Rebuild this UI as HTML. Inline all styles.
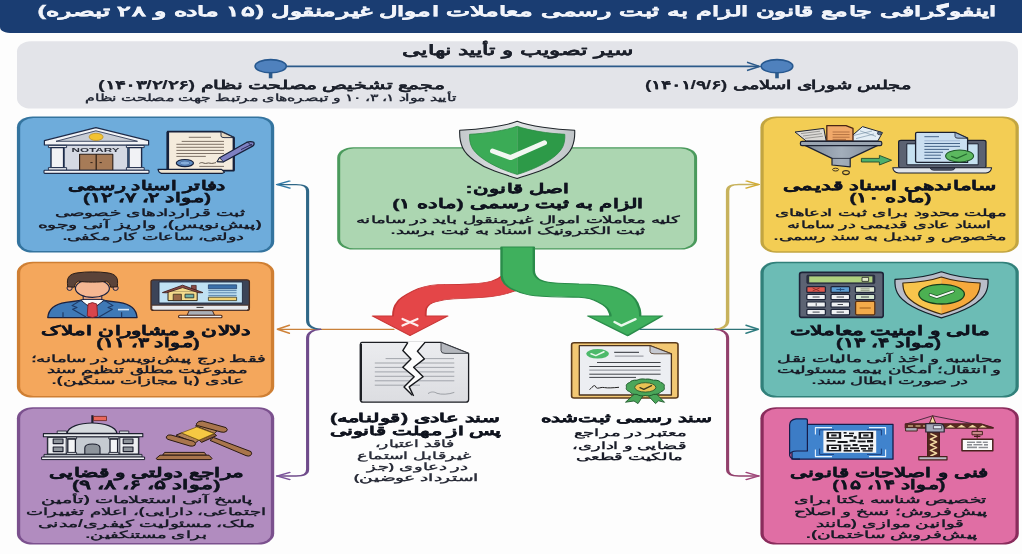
<!DOCTYPE html>
<html lang="fa"><head><meta charset="utf-8"><title>اینفوگرافی قانون الزام به ثبت رسمی معاملات اموال غیرمنقول</title>
<style>
html,body{margin:0;padding:0;background:#fdfdfd;}
body{width:1022px;height:554px;overflow:hidden;font-family:"Liberation Sans",sans-serif;}
svg{display:block;font-family:"Liberation Sans",sans-serif;}
</style></head><body>
<svg width="1022" height="554" viewBox="0 0 1022 554">
<defs>
<linearGradient id="rimg" x1="0" y1="0" x2="1" y2="0"><stop offset="0" stop-color="#c4c9cc"/><stop offset="0.5" stop-color="#e2e5e6"/><stop offset="1" stop-color="#bfc4c7"/></linearGradient>
<linearGradient id="funnelg" x1="0" y1="0" x2="1" y2="0"><stop offset="0" stop-color="#7f8b99"/><stop offset="0.5" stop-color="#a3aebb"/><stop offset="1" stop-color="#7f8b99"/></linearGradient>
<linearGradient id="paperg" x1="0" y1="0" x2="0" y2="1"><stop offset="0" stop-color="#ebecef"/><stop offset="1" stop-color="#dcdde1"/></linearGradient>
<filter id="soft" filterUnits="userSpaceOnUse" x="-20" y="-20" width="1062" height="594" color-interpolation-filters="sRGB"><feGaussianBlur stdDeviation="0.45"/></filter>
</defs>

<g filter="url(#soft)">
<rect x="-20" y="-20" width="1062" height="594" fill="#fdfdfd"/>
<!-- header -->
<path d="M-20 -20H1042V33.1H13C5 33.1 0 31 0 27V40H-20Z" fill="#1a3d72"/>
<!-- timeline panel -->
<rect x="17" y="41.2" width="1001" height="67.4" rx="14" ry="10" fill="#e3e4e9"/>
<g stroke="#2c5a8a" fill="none">
<line x1="287" y1="66.4" x2="759" y2="66.4" stroke-width="1.6"/>
<path d="M747 62.3L759.5 66.4L747 70.5" stroke-width="1.5"/>
<line x1="270.6" y1="72" x2="270.6" y2="78.3" stroke-width="3.6"/>
<line x1="777" y1="72" x2="777" y2="78.3" stroke-width="3.6"/>
</g>
<ellipse cx="270.7" cy="66.2" rx="15.6" ry="6.6" fill="#4f81bd" stroke="#27588f" stroke-width="1.6"/>
<ellipse cx="777" cy="66.2" rx="15.8" ry="6.6" fill="#4f81bd" stroke="#27588f" stroke-width="1.6"/>

<!-- side panels -->
<rect x="16.9" y="116.4" width="257.3" height="136.2" rx="16" ry="11" fill="#34749f"/><rect x="20.2" y="117.9" width="250.7" height="133.2" rx="13.299999999999999" ry="9.5" fill="#6eacdb"/>
<rect x="16.9" y="261.8" width="257.3" height="135.8" rx="16" ry="11" fill="#cf7f33"/><rect x="20.2" y="263.3" width="250.7" height="132.8" rx="13.299999999999999" ry="9.5" fill="#f4a75c"/>
<rect x="16.9" y="407.2" width="257.3" height="137.4" rx="16" ry="11" fill="#7b518e"/><rect x="20.2" y="408.7" width="250.7" height="134.4" rx="13.299999999999999" ry="9.5" fill="#b18cbf"/>
<rect x="760.4" y="116.4" width="258.4" height="136.4" rx="16" ry="11" fill="#c2a541"/><rect x="763.6999999999999" y="117.9" width="251.8" height="133.4" rx="13.299999999999999" ry="9.5" fill="#f3cd54"/>
<rect x="760.4" y="261.8" width="258.4" height="135.8" rx="16" ry="11" fill="#31807a"/><rect x="763.6999999999999" y="263.3" width="251.8" height="132.8" rx="13.299999999999999" ry="9.5" fill="#6cbcb5"/>
<rect x="760.4" y="407.2" width="258.4" height="137.4" rx="16" ry="11" fill="#8a2c5c"/><rect x="763.6999999999999" y="408.7" width="251.8" height="134.4" rx="13.299999999999999" ry="9.5" fill="#e06ea4"/>
<!-- centre -->
<!-- green panel -->
<rect x="337.2" y="147.2" width="359.9" height="102.3" rx="16" ry="10.5" fill="#4a9a5c"/>
<rect x="340.2" y="148.5" width="353.9" height="99.7" rx="13.4" ry="9.2" fill="#acd6b1"/>
<!-- red arrow -->
<g transform="scale(2.3 1)"><path d="M218.7 275C216.52 280 213.04 283 204.35 284C197.83 284.7 193.48 284.5 190.43 284.7C186.09 285.5 182.17 288 179.57 291C175.65 295.5 173.48 299 172.83 302C171.3 306 170.87 310 170.87 316H161.96L178.26 335.6L194.65 316H185.09C185.09 312 185.13 310 185.39 308.2C186.09 305 187.39 303 189.13 302C191.74 300 194.35 299 197.39 298.8C202.17 298 206.96 298 210.87 297.2C214.78 296.5 218.26 295 220.43 293.5L225.22 290Z" fill="#e44648" stroke="#c93636" stroke-width="0.8" stroke-linejoin="round"/></g>
<!-- green arrow -->
<g transform="scale(2.3 1)"><path d="M218.04 247V275.3C218.26 283 220.87 288 224.57 291C226.96 293.5 229.57 295 232.74 295.7C239.13 297 245.65 297 251.74 297.2C255.22 297.5 257.83 299 260 302C262.61 305 264.35 308 264.78 311.3C265.22 313 265.43 315 265.43 316H255.65L272.91 335.6L287.83 316H278.35C278.35 312 278.26 309 277.65 306.6C276.96 301 275.65 297 273.61 294C271.3 290 268.7 288 265.43 286.3C260.87 284.5 256.52 284.2 251.74 284C246.96 283.6 242.17 283.5 238.26 282.2C236.09 281.5 234.35 280 233.48 277.8C232.39 275.5 232.09 273 232.09 270.6V247Z" fill="#3fb05d" stroke="#2a8c4a" stroke-width="1.05" stroke-linejoin="round"/></g>
<!-- X -->
<path d="M402.5 319L417.5 325.6M417.5 319L402.5 325.6" stroke="#fdeeee" stroke-width="2.2" stroke-linecap="round"/>
<!-- check -->
<path d="M614.5 322L621.4 325.6L635.5 319.2" stroke="#eaf8ec" stroke-width="2.4" fill="none" stroke-linecap="round" stroke-linejoin="round"/>
<!-- big shield -->
<g>
<path d="M517.2 121.3C505 126 480 129.6 459.7 130.2C459.4 137 460.3 142.5 462.5 147.5C466.5 156.5 480 166 494.6 171.1C503 174 510 176.4 517.2 178.5C524.4 176.4 531.4 174 539.8 171.1C554.4 166 567.9 156.5 571.9 147.5C574.1 142.5 575.0 137 574.7 130.2C554.4 129.6 529.4 126 517.2 121.3Z" fill="url(#rimg)" stroke="#20262b" stroke-width="1.1" stroke-linejoin="round"/>
<path d="M517.2 126.3C506 130.3 486 133.6 469.6 134.3C469.4 139.5 470 143 471.5 146.5C475 154.5 487 162.5 501 168.6C507 171 512 173 517.2 174.4Z" fill="#3bab56"/>
<path d="M517.2 126.3C528.4 130.3 548.4 133.6 564.8 134.3C565.0 139.5 564.4 143 562.9 146.5C559.4 154.5 547.4 162.5 533.4 168.6C527.4 171 522.4 173 517.2 174.4Z" fill="#2d9a48"/>
<path d="M517.2 126.3C506 130.3 486 133.6 469.6 134.3C469.4 139.5 470 143 471.5 146.5C475 154.5 487 162.5 501 168.6C507 171 512 173 517.2 174.4" fill="none" stroke="#2a8a42" stroke-width="0.8"/>
<path d="M517.2 126.3C528.4 130.3 548.4 133.6 564.8 134.3C565.0 139.5 564.4 143 562.9 146.5C559.4 154.5 547.4 162.5 533.4 168.6C527.4 171 522.4 173 517.2 174.4" fill="none" stroke="#2a8a42" stroke-width="0.8"/>
<path d="M492.5 151L510.5 157.6L544.5 142.8" fill="none" stroke="#f2f7f2" stroke-width="5" stroke-linejoin="round" stroke-linecap="round"/>
</g>

<!-- connectors -->
<g fill="none" stroke-linecap="round" stroke-linejoin="round">
<path d="M277.6 329.3H394" stroke="#c9813a" stroke-width="1.3"/>
<path d="M289.4 325.3L277.4 329.3L289.4 333.3" stroke="#cf8238" stroke-width="1.5"/>
<path d="M640 329.3H757.6" stroke="#2f7377" stroke-width="1.3"/>
<path d="M746 325.3L758.4 329.3L746 333.3" stroke="#2f7d80" stroke-width="1.5"/>
<g transform="scale(2.3 1)" stroke-width="1.35">
<path d="M120.61 184.6H128.7C132.17 184.6 133.74 186.5 133.74 191V320.5C133.74 325.5 135.22 328.6 139.13 329.3" stroke="#2f6787"/>
<path d="M125.83 181.1L120.52 184.6L125.83 188.1" stroke="#2f79a6" stroke-width="1.2"/>
<path d="M139.13 329.3C135.22 330 133.74 333 133.74 338V469.5C133.74 474 132.17 476 128.7 476H120.61" stroke="#6f4b8b"/>
<path d="M125.83 472.5L120.52 476L125.83 479.5" stroke="#7a529a" stroke-width="1.2"/>
<path d="M329.57 184.6H321.3C317.83 184.6 316.35 186.5 316.35 191V320.5C316.35 325.5 314.78 328.6 311.09 329.3" stroke="#c7b25c" stroke-width="1.5"/>
<path d="M324.61 181.1L329.83 184.6L324.61 188.1" stroke="#d2ab32" stroke-width="1.2"/>
<path d="M311.09 329.3C314.78 330 316.35 333 316.35 338V469.5C316.35 474 317.83 476 321.3 476H329.57" stroke="#92406c"/>
<path d="M324.61 472.5L329.83 476L324.61 479.5" stroke="#a0447a" stroke-width="1.2"/>
</g></g>

<!-- icons -->
<!-- notary building -->
<g stroke="#1d2a48" stroke-linejoin="round">
<rect x="64.2" y="145" width="63.4" height="25.2" fill="#d5d9e3" stroke-width="0.8"/>
<path d="M44.4 140.6L95.9 127.6L148.6 140.6V145H44.4Z" fill="#f2f3f6" stroke-width="1.2"/>
<path d="M56 141.3L95.9 130.8L137.5 141.3Z" fill="#c8cdd6" stroke-width="0.8"/>
<ellipse cx="96.1" cy="136.9" rx="7" ry="3.6" fill="#f2c232" stroke="#b8891c" stroke-width="0.7"/>
<rect x="79.6" y="154.3" width="33.2" height="16" fill="#a77b57" stroke="#2a1c14" stroke-width="1.1"/>
<path d="M96.2 154.3V170.3" stroke="#2a1c14" stroke-width="1.2"/>
<path d="M90.4 162.6H92.6M99.6 162.6H101.8" stroke="#2a1c14" stroke-width="0.9"/>
<!-- left column -->
<rect x="48.4" y="145.4" width="18.2" height="2.2" fill="#e9ebef" stroke-width="0.9"/>
<rect x="51" y="147.6" width="12.6" height="20" fill="#f1f2f5" stroke-width="1.4"/>
<rect x="48.4" y="167.6" width="18.2" height="2.6" fill="#e9ebef" stroke-width="0.9"/>
<!-- right column -->
<rect x="126.4" y="145.4" width="17.8" height="2.2" fill="#e9ebef" stroke-width="0.9"/>
<rect x="129" y="147.6" width="12.6" height="20" fill="#f1f2f5" stroke-width="1.4"/>
<rect x="126.4" y="167.6" width="17.8" height="2.6" fill="#e9ebef" stroke-width="0.9"/>
<rect x="44" y="170.3" width="105" height="3.1" rx="0.8" fill="#f4f5f7" stroke-width="1.1"/>
</g>
<text x="95.6" y="152.4" font-size="5.2" font-weight="bold" fill="#2b2f3a" text-anchor="middle" textLength="48" lengthAdjust="spacingAndGlyphs">NOTARY</text>
<!-- deed with pen -->
<g stroke="#17213b" stroke-linejoin="round">
<path d="M167.6 131.6H221L234 137.6V170.6H167.6Z" fill="#f4ebdc" stroke-width="1.6"/>
<path d="M167.8 132V170" stroke-width="2.6"/>
<path d="M233.6 138V170" stroke-width="2"/>
<path d="M221 131.6V136Q221 137.6 224 137.6H234Z" fill="#e6d8c0" stroke-width="0.9"/>
<path d="M158 169.4H221.5L224.5 172.2L222 173.4H161.5Q158.5 172.6 158 169.4Z" fill="#efe5d2" stroke-width="1.1"/>
<g stroke="#4c3d33" stroke-width="0.7">
<path d="M188.8 137.3H211"/><path d="M181.7 141.4H224"/><path d="M176.4 144.3H224"/><path d="M176.4 147.3H224"/><path d="M176.4 150.4H224"/><path d="M176.4 153.5H224"/><path d="M176.4 156.4H205.8"/><path d="M199.3 166.4H224"/>
</g>
<path d="M199.3 163.4C201 162.4 202.5 162.4 204 163.2C206 164 208 162.4 210 163.2C212 163.8 214 163 216 162.6" fill="none" stroke="#3d3228" stroke-width="0.8"/>
<ellipse cx="184.9" cy="163.1" rx="8.6" ry="3.6" fill="#5f8dc3" stroke="#17213b" stroke-width="1.2"/>
<ellipse cx="184.9" cy="163.1" rx="5" ry="2" fill="#86aedb" stroke="#2e4f86" stroke-width="0.5"/>
<!-- pen -->
<path d="M217.2 161.6L219.5 157.8L246.5 142.4Q250.5 140.8 253.8 142.2Q255 144.6 252.2 146.4L223.6 161.8Z" fill="#7e80c2" stroke-width="1.2"/>
<path d="M217.2 161.6L219.5 157.8L223.6 161.8Z" fill="#ece0cd" stroke-width="0.9"/>
<path d="M247.5 141.9L252 146.5" stroke-width="0.9"/>
<path d="M241 149.6L252 144.2" stroke="#2b2d5a" stroke-width="1"/>
</g>

<!-- agent -->
<g stroke="#1a2140" stroke-linejoin="round">
<path d="M47.8 317.6C48.5 309 55 304 66 302.4L82 300.2H102L119 302.4C130 304 136.5 309 137 317.6Z" fill="#3f79b6" stroke-width="1.4"/>
<rect x="83.2" y="295" width="18.6" height="6.4" fill="#f0a884" stroke-width="1"/>
<path d="M80.8 300.2L92.4 309.4L104.2 300.2L101 299.4H84Z" fill="#fdfdfd" stroke-width="1"/>
<path d="M88 304L92.4 302.6L96.8 304L97.6 316L92.4 317.6L87.2 316Z" fill="#d9454c" stroke="#7c1f26" stroke-width="0.9"/>
<path d="M80.8 300.2L72 305.6L77 307.6L72.6 309.2L86 317M104.2 300.2L113 305.6L108 307.6L112.4 309.2L99 317" fill="none" stroke="#1e3a66" stroke-width="1.1"/>
<path d="M63 312.2V317.2M121.6 312.2V317.2" stroke="#1e3a66" stroke-width="1.2"/>
<path d="M118 309.6H129" stroke="#d9e9f8" stroke-width="1.6"/>
<ellipse cx="69.6" cy="288" rx="2.6" ry="2.4" fill="#f0a884" stroke-width="1"/>
<ellipse cx="115.6" cy="288" rx="2.6" ry="2.4" fill="#f0a884" stroke-width="1"/>
<ellipse cx="92.4" cy="288.3" rx="17" ry="9" fill="#f5b792" stroke-width="1.2"/>
<path d="M67.8 286.8C67 282 67.4 279 68.6 277.2C70 274.6 74 273.2 78 272.8C86 271.6 99 271.6 107 272.8C111 273.2 115 274.6 116.4 277.2C117.6 279 118 282 117.2 286.8L110.6 287.2C110.4 284.6 109 282.4 106.4 281.2C100 282.4 85 282.4 78.4 281.2C75.8 282.4 74.6 284.6 74.4 287.2Z" fill="#5b4339" stroke="#2a1d18" stroke-width="1"/>
</g>
<!-- monitor with house -->
<g stroke-linejoin="round">
<rect x="151" y="279.8" width="98.4" height="30.6" rx="2.6" ry="2" fill="#3c4458" stroke="#4a2a1c" stroke-width="1.3"/>
<rect x="159" y="282" width="83.4" height="21" fill="#c0e1f3" stroke="#1f2940" stroke-width="0.9"/>
<path d="M151.8 305.2H248.6V308.6Q248.6 310.2 246.4 310.2H154Q151.8 310.2 151.8 308.6Z" fill="#e8eaee" stroke="#4a2a1c" stroke-width="0.9"/>
<path d="M196.5 307.4H203.5" stroke="#333" stroke-width="1"/>
<path d="M189.2 310.6H212.4L214.6 315.4H187Z" fill="#aab0b8" stroke="#4a2a1c" stroke-width="1"/>
<rect x="178.6" y="315.3" width="43.4" height="2.5" rx="1" fill="#f0f1f3" stroke="#4a2a1c" stroke-width="1.1"/>
<!-- house -->
<rect x="191.4" y="285.4" width="4.8" height="4.6" fill="#8a4a46" stroke="#40201e" stroke-width="0.7"/>
<rect x="168" y="291" width="29.2" height="9.6" fill="#f3da8c" stroke="#2a2418" stroke-width="1"/>
<path d="M168.6 291.6L182.6 287.2L196.6 291.6Z" fill="#f3da8c" stroke="none"/>
<path d="M162.4 292.6L182.6 285.2L203 292.6L199 292.8L182.6 287.6L166.4 292.8Z" fill="#8e4c48" stroke="#40201e" stroke-width="0.9"/>
<rect x="173.2" y="294.2" width="8.2" height="6.4" fill="#9a6a48" stroke="#2a2418" stroke-width="0.7"/>
<rect x="185" y="294.2" width="8.8" height="3.6" fill="#6fb0a8" stroke="#1f2a28" stroke-width="0.8"/>
<!-- ui -->
<rect x="208.4" y="284.8" width="28.2" height="4" fill="#3b6fa9" stroke="#1f3a66" stroke-width="0.7"/>
<path d="M208.4 290.6H236.6M208.4 292.8H236.6M208.4 295.4H236.6" stroke="#2d5a8e" stroke-width="0.7"/>
<rect x="208.4" y="297.2" width="28.2" height="3.4" fill="#f1d272" stroke="#3a3320" stroke-width="0.8"/>
</g>

<!-- government building -->
<g stroke="#1c1f2e" stroke-linejoin="round">
<path d="M92.4 415.2V423.2" stroke-width="2.2"/>
<rect x="93.5" y="416.4" width="13" height="4.2" fill="#ea675c" stroke="#6a2520" stroke-width="0.8"/>
<path d="M67 433.4C68 426.6 80 423 92 423C104 423 116 426.6 117 433.4Z" fill="#d6dade" stroke-width="1.2"/>
<rect x="57.2" y="431" width="9.4" height="2.6" fill="#d0d4d9" stroke-width="0.8"/>
<rect x="119.4" y="431" width="9.4" height="2.6" fill="#d0d4d9" stroke-width="0.8"/>
<rect x="47.4" y="436.8" width="91.4" height="17.6" fill="#c6cbd2" stroke-width="1.1"/>
<rect x="47.8" y="437.4" width="18.4" height="16.6" fill="#eceef1" stroke-width="0.9"/>
<rect x="119.8" y="437.4" width="18.6" height="16.6" fill="#eceef1" stroke-width="0.9"/>
<g fill="#8f959c" stroke-width="1.1">
<rect x="53.2" y="439" width="9.8" height="4.6"/><rect x="53.2" y="447" width="9.8" height="4.6"/>
<rect x="123.2" y="439" width="9.8" height="4.6"/><rect x="123.2" y="447" width="9.8" height="4.6"/>
</g>
<rect x="43.4" y="433.6" width="99.4" height="3.2" fill="#e9ebee" stroke-width="1.1"/>
<rect x="66.6" y="437" width="10" height="2" fill="#eceef1" stroke-width="0.8"/>
<rect x="67.8" y="439" width="7.6" height="13.6" fill="#f3f4f6" stroke-width="1.3"/>
<rect x="66.6" y="452.4" width="10" height="2" fill="#eceef1" stroke-width="0.8"/>
<rect x="108.8" y="437" width="10" height="2" fill="#eceef1" stroke-width="0.8"/>
<rect x="110" y="439" width="7.6" height="13.6" fill="#f3f4f6" stroke-width="1.3"/>
<rect x="108.8" y="452.4" width="10" height="2" fill="#eceef1" stroke-width="0.8"/>
<path d="M84.8 454.4V448C84.8 445 88 444 92.4 444C96.8 444 100 445 100 448V454.4Z" fill="#8e949c" stroke-width="1.1"/>
<rect x="44" y="454.4" width="98" height="2.8" fill="#b9bec5" stroke-width="0.9"/>
<rect x="41.6" y="457" width="103" height="2.6" fill="#f1f2f4" stroke-width="1"/>
</g>
<!-- gavel -->
<g stroke="#2a1a12" stroke-linejoin="round" stroke-width="1">
<path d="M210 440.4L213.4 437.4L251 451.6Q252.6 454 250.4 455.6Q248.4 456.6 246 455.6Z" fill="#a9754c"/>
<path d="M195.5 425.9L199 423.6L217.4 430.4L214.3 433.5Z" fill="#b28258"/>
<path d="M176.1 435.2L181.4 432.9L199 439.9L195.4 443Z" fill="#b28258"/>
<path d="M199 440L214.3 433.6L216.6 435.6L201.6 442.4Z" fill="#8c5e3c"/>
<path d="M181.4 432.9L196.8 427L214.2 433.5L199 440.2Z" fill="#f6c943" stroke="#7a5a14" stroke-width="0.8"/>
<path d="M196.4 423.6Q198.4 420.6 202.4 421L226 427.6Q228.4 429.6 226.4 431.4Q224 432.8 221 432L197.6 425.6Q196 425 196.4 423.6Z" fill="#a9754c"/>
<path d="M166.4 436.6Q167.6 434.4 171 435L194 441.4Q196.4 443.2 195 445.2Q193 446.6 190 446L168 439.4Q165.6 438.4 166.4 436.6Z" fill="#a9754c"/>
<path d="M164.6 452.4H204.4L206.4 455.2H162.6Z" fill="#b5835a"/>
<path d="M160 455.2H209L212 458.4Q211.6 459.6 210 459.6H158Q156.4 459.6 156.2 458.4Z" fill="#a9754c"/>
</g>

<!-- funnel with papers -->
<g stroke="#1c2233" stroke-linejoin="round">
<path d="M795 132L823.8 128.4L826.2 141H806.2Z" fill="#dcdad6" stroke-width="1"/>
<path d="M801 133.6L820 131.2M803 136L822 133.6M805 138.4L823 136.2" stroke="#6a6a6a" stroke-width="0.6" fill="none"/>
<path d="M846 141L862.5 126.6L882.5 132.6L877.8 141Z" fill="#e4eef5" stroke-width="1"/>
<path d="M856 138.6L874 134M854 135.4L872 131M860 130.8L876 136.4" stroke="#6f8aa0" stroke-width="0.6" fill="none"/>
<ellipse cx="879.4" cy="133.2" rx="2" ry="1.6" fill="#5b6f86" stroke-width="0.6"/>
<path d="M826.8 125.6H846L853 128.4V141H826.8Z" fill="#f1a96a" stroke="#4a2614" stroke-width="1.3"/>
<path d="M832.6 132H849.6M832.6 134.6H849.6M832.6 137.2H849.6M832.6 139.4H846" stroke="#9a5a30" stroke-width="0.7" fill="none"/>
<path d="M805 145.4H877.8L850.2 158.4V166.8L832 165V158.4Z" fill="url(#funnelg)" stroke-width="1.2"/>
<path d="M832 158.4H850.2" stroke-width="0.8"/>
<rect x="800.4" y="141.4" width="81.4" height="4.2" rx="1.6" fill="#9aa5b2" stroke-width="1.2"/>
<ellipse cx="835.6" cy="169.6" rx="3" ry="1.4" fill="none" stroke="#3a3020" stroke-width="1"/>
<ellipse cx="846" cy="172.6" rx="3.4" ry="2" fill="none" stroke="#3a3020" stroke-width="1.1"/>
<!-- green arrow -->
<path d="M861.4 158.4H879.4V155.4L891.6 160.2L879.4 165V162H861.4Z" fill="#4db06c" stroke="#1f4a2c" stroke-width="0.9"/>
</g>
<!-- laptop with doc -->
<g stroke="#1b2030" stroke-linejoin="round">
<rect x="898.6" y="140.4" width="87.4" height="27.4" rx="2.4" ry="1.8" fill="#5b6272" stroke-width="1.2"/>
<rect x="906.8" y="143.8" width="71.4" height="21" fill="#c6e1f1" stroke-width="1"/>
<path d="M892.8 167.8H991.6Q991 172.6 986 173H898.6Q893.4 172.6 892.8 167.8Z" fill="#e0e4e9" stroke-width="1.1"/>
<path d="M930.2 168H955Q954.4 170.2 951.6 170.2H933.6Q930.8 170.2 930.2 168Z" fill="#5b6272" stroke-width="0.8"/>
<path d="M917 132.4H955L967.6 138.2V162.4H917Q915.6 162.4 915.6 161V133.6Q915.6 132.4 917 132.4Z" fill="#cadff1" stroke-width="1.3"/>
<path d="M955 132.4V136.4Q955 138.2 958 138.2H967.6Z" fill="#9fb8d6" stroke-width="0.8"/>
<g stroke="#24456e" stroke-width="0.8">
<path d="M924.4 136.7H939"/><path d="M924.4 143.5H960"/><path d="M924.4 146.4H960"/><path d="M924.4 149.4H949"/><path d="M924.4 152.3H943"/><path d="M924.4 155.2H941"/><path d="M924.4 158.4H940.8"/>
</g>
<path d="M924.4 140.8H960" stroke="#8fa9c8" stroke-width="0.7"/>
<ellipse cx="959.6" cy="156" rx="14" ry="6" fill="#5cb85f" stroke="#1f5a2a" stroke-width="1.1"/>
<path d="M951.6 156.4L956.8 158.4L966.6 154" fill="none" stroke="#256b30" stroke-width="1.2" stroke-linecap="round"/>
</g>

<!-- calculator -->
<g stroke="#1d2438" stroke-linejoin="round">
<rect x="799.6" y="272.4" width="83.6" height="45" rx="2.6" ry="2" fill="#5c6373" stroke-width="1.6"/>
<rect x="806.8" y="275" width="68" height="8.6" rx="1" fill="#2c3140" stroke-width="0.6"/>
<rect x="809.2" y="276.4" width="63.2" height="6" fill="#aed07e" stroke="none"/>
<rect x="862" y="277.4" width="6.6" height="4" fill="#dfe8c8" stroke="#222" stroke-width="0.8"/>
<g stroke-width="1.25">
<rect x="806.8" y="286.6" width="18.6" height="5.8" rx="1" fill="#e25a50"/>
<rect x="831" y="286.6" width="18.6" height="5.8" rx="1" fill="#5c9cd1"/>
<rect x="855.4" y="286.6" width="19.4" height="5.8" rx="1" fill="#dfe8d2"/>
<rect x="806.8" y="294.4" width="18.6" height="5.2" rx="1" fill="#eef0f2"/>
<rect x="831" y="294.4" width="18.6" height="5.2" rx="1" fill="#eef0f2"/>
<rect x="855.4" y="294.4" width="19.4" height="5.2" rx="1" fill="#d4e6cf"/>
<rect x="806.8" y="301.8" width="18.6" height="5.4" rx="1" fill="#eef0f2"/>
<rect x="831" y="301.8" width="18.6" height="5.4" rx="1" fill="#eef0f2"/>
<rect x="806.8" y="309.4" width="18.6" height="5.4" rx="1" fill="#eef0f2"/>
<rect x="831" y="309.4" width="18.6" height="5.4" rx="1" fill="#eef0f2"/>
<rect x="855.6" y="301.4" width="19.2" height="13.4" rx="1.2" fill="#f3aa4a" stroke="#5a3010"/>
</g>
<g stroke="#30343e" stroke-width="0.9" fill="none">
<path d="M812.6 288L819.6 291M819.6 288L812.6 291" stroke="#8a2a24"/>
<path d="M836.4 289.5H844.4M840.4 288V291" stroke="#1f4a7a"/>
<path d="M860.6 288.8H869.6M860.6 290.4H869.6" stroke="#8a9480"/>
<path d="M812.6 297H819.6M836.6 297H844M861 297H869"/>
<path d="M816.2 303.2V305.8M837.6 304.5H843"/>
<path d="M812.6 312.1H819.6M836.6 312.1H844"/>
<path d="M859.6 308H870.8" stroke="#9a5a18" stroke-width="1"/>
</g>
</g>
<!-- gold shield -->
<g stroke-linejoin="round">
<path d="M941.4 271.8C929 276.4 912 278.8 895 279.4C894.6 285 895.4 289 897.4 293C902 302 918 311 941.4 317.8C965 311 981 302 985.6 293C987.6 289 988.4 285 988 279.4C971 278.8 954 276.4 941.4 271.8Z" fill="#b9bdc9" stroke="#15202a" stroke-width="1.2"/>
<path d="M941.4 277C931 280.6 917 282.4 902.8 283C902.8 288 903.6 291 905.6 294.4C910 301.6 922 308.6 941.4 314.2Z" fill="#f8c44c"/>
<path d="M941.4 277C952 280.6 966 282.4 980.2 283C980.2 288 979.4 291 977.4 294.4C973 301.6 961 308.6 941.4 314.2Z" fill="#f6a93c"/>
<path d="M941.4 277C931 280.6 917 282.4 902.8 283C902.8 288 903.6 291 905.6 294.4C910 301.6 922 308.6 941.4 314.2C961 308.6 973 301.6 977.4 294.4C979.4 291 980.2 288 980.2 283C966 282.4 952 280.6 941.4 277Z" fill="none" stroke="#3a2810" stroke-width="1.1"/>
<ellipse cx="941.6" cy="294.2" rx="22.8" ry="9.8" fill="#4cb052" stroke="#173d1c" stroke-width="1.3"/>
<path d="M930.4 294.8L936.8 297.2L953 291.4" fill="none" stroke="#1f5a28" stroke-width="3.4" stroke-linecap="round" stroke-linejoin="round"/>
<path d="M930.4 294.8L936.8 297.2L953 291.4" fill="none" stroke="#f4f8f4" stroke-width="1.9" stroke-linecap="round" stroke-linejoin="round"/>
</g>

<!-- blueprint with QR -->
<g stroke-linejoin="round">
<rect x="792" y="424.4" width="101" height="34.8" fill="#4083cd" stroke="#161c4a" stroke-width="1.3"/>
<path d="M807.4 451V420Q807.4 418.8 806 418.8H796Q789.6 419.6 789.6 425V455Q790 451 797 451Z" fill="#3c7cc6" stroke="#161c4a" stroke-width="1.2"/>
<path d="M789.6 455Q790 459.2 796 459.2H800" fill="none" stroke="#161c4a" stroke-width="1.2"/>
<g fill="none" stroke="#e8f3fc" stroke-width="1.1">
<path d="M815.4 434.6V427.6H832M869 427.6H885.6V434.6M885.6 449.4V456.6H869M832 456.6H815.4V449.4"/>
</g>
<g fill="none" stroke="#1b3f7c" stroke-width="1">
<path d="M819.6 435.4V429.8H834M867 429.8H881.4V435.4M881.4 448.6V454.4H867M834 454.4H819.6V448.6"/>
</g>
<rect x="823.4" y="430.6" width="52.8" height="22.2" fill="#f4f6f8"/>
<g fill="#17181c">
<rect x="826.6" y="432" width="14.6" height="6.8"/><rect x="858.6" y="432" width="14.6" height="6.8"/><rect x="826.6" y="444.6" width="14.6" height="6.8"/>
<rect x="843.6" y="432" width="3" height="1.6"/><rect x="849" y="432.6" width="5" height="1.6"/><rect x="844" y="435" width="9" height="1.8"/><rect x="853.6" y="436.2" width="3" height="2.6"/>
<rect x="826.6" y="440" width="9" height="1.6"/><rect x="837.6" y="441" width="10" height="2"/><rect x="849.6" y="439.8" width="6" height="2"/><rect x="857.6" y="440.6" width="8" height="1.8"/><rect x="867" y="440" width="6" height="2.4"/>
<rect x="843.6" y="444.6" width="7" height="1.8"/><rect x="852.6" y="444" width="5" height="2"/><rect x="859.6" y="445" width="9" height="1.8"/><rect x="870" y="444.4" width="3.2" height="2"/>
<rect x="844" y="447.6" width="4" height="1.8"/><rect x="850" y="447.4" width="9" height="1.8"/><rect x="861" y="448" width="5" height="1.6"/><rect x="868" y="447.6" width="5" height="2"/>
<rect x="843.6" y="450" width="8" height="1.6"/><rect x="854" y="450" width="6" height="1.6"/><rect x="862.6" y="450.2" width="10" height="1.4"/>
</g>
<g fill="#f4f6f8">
<rect x="829" y="433.4" width="9.8" height="4"/><rect x="861" y="433.4" width="9.8" height="4"/><rect x="829" y="446" width="9.8" height="4"/>
</g>
<g fill="#17181c">
<rect x="831.2" y="434.4" width="5.4" height="2"/><rect x="863.2" y="434.4" width="5.4" height="2"/><rect x="831.2" y="447" width="5.4" height="2"/>
</g>
</g>
<!-- crane -->
<g stroke="#46211c" stroke-linejoin="round">
<path d="M932.6 415.8L905.6 424.2M932.6 415.8L992.6 427.6" stroke="#2a1a2a" stroke-width="0.8" fill="none"/>
<path d="M929.6 423L932.6 415.6L935.6 423Z" fill="#f1d9a2" stroke-width="1"/>
<path d="M905.2 423.8H981L993.4 427.6V428.2H905.2Z" fill="#5a2c22" stroke-width="1"/>
<path d="M946 427.4L950.5 424.8L955 427.4ZM957 427.4L961.5 424.8L966 427.4ZM968 427.4L972.5 424.8L977 427.4ZM979 427.4L982.5 425.2L987 427.4Z" fill="#f1d9a2" stroke="none"/>
<path d="M908 426H925" stroke="#f1d9a2" stroke-width="1.2" stroke-dasharray="5 2.5" fill="none"/>
<rect x="905.6" y="427.6" width="11.6" height="3.4" fill="#a9adb8" stroke-width="1"/>
<rect x="927.6" y="432" width="11.8" height="25" fill="#552820" stroke-width="1.2"/>
<path d="M930.4 433.6L936.6 436.4L930.4 439.2L936.6 442L930.4 444.8L936.6 447.6L930.4 450.4L936.6 453.2L930.4 456" fill="none" stroke="#f1d9a2" stroke-width="1.5"/>
<path d="M925.8 423.6H940Q943.8 424 944.2 427.6V432H925.8Z" fill="#a2a7b7" stroke="#2a2030" stroke-width="1.2"/>
<rect x="933.4" y="425.6" width="8.2" height="3.2" fill="#dfe6ee" stroke="#2a2030" stroke-width="0.7"/>
<rect x="918.8" y="456.6" width="28.2" height="3.2" fill="#b9bcc6" stroke-width="1.2"/>
<path d="M977.2 428V438.6" stroke-width="1" fill="none"/>
<rect x="972" y="431.4" width="10.4" height="3.4" fill="#c98a8a" stroke-width="1"/>
<path d="M974 436.4H980.4" stroke-width="1.2" fill="none"/>
<rect x="962" y="439.2" width="30.8" height="11.6" fill="#fbfbfb" stroke-width="1.5"/>
<g fill="#8a8d92" stroke="none">
<rect x="967" y="441.6" width="8" height="1.4"/><rect x="976.4" y="441.4" width="5" height="1.6"/><rect x="982.8" y="441.6" width="5" height="1.4"/>
<rect x="967" y="444" width="5" height="1.6"/><rect x="973.4" y="444" width="9" height="1.4"/><rect x="984" y="444" width="4" height="1.6"/>
<rect x="967" y="446.6" width="10" height="1.6"/><rect x="978.6" y="446.8" width="9.4" height="1.4"/>
</g>
</g>

<!-- torn ordinary deed -->
<g stroke-linejoin="round">
<path d="M362 342.4H441L468.6 353.4V399.5Q468.6 402.2 466 402.2H363Q360.4 402.2 360.4 399.5V345Q360.4 342.4 362 342.4Z" fill="url(#paperg)" stroke="#1d1f24" stroke-width="1.3"/>
<path d="M360.9 344V400.5" stroke="#1d1f24" stroke-width="2.2"/>
<path d="M441 342.4V350.5Q441 353.4 445 353.4H468.6Z" fill="#b4b7bd" stroke="#3a3d44" stroke-width="0.9"/>
<g stroke="#9b9ea5" stroke-width="0.9">
<path d="M385.6 358.6H454"/><path d="M374.8 363H454.3"/><path d="M374.8 367.4H454.3"/><path d="M374.8 371.9H454.3"/><path d="M374.8 376.3H454.3"/><path d="M374.8 380.8H454.3"/><path d="M374.8 385.2H420"/>
</g>
<path d="M428 393.6C431 391.5 434 391.5 437 393.3C441 394.8 449 394.4 454.3 392.4" fill="none" stroke="#9da0a6" stroke-width="1"/>
<!-- tear -->
<path d="M407.9 341.6L402.8 350.6L411 358.9L402.8 367.2L414.2 376.7L404 386.9L412.3 395.2L413.6 396L409.2 386.9L423.1 376.7L413.6 367.2L424.4 358.9L417.4 351.3L425 341.6Z" fill="#fdfdfd"/>
<path d="M407.9 342.4L402.8 350.6L411 358.9L402.8 367.2L414.2 376.7L404 386.9L412.3 395.2" fill="none" stroke="#15171b" stroke-width="1.4"/>
<path d="M425 342.4L417.4 351.3L424.4 358.9L413.6 367.2L423.1 376.7L409.2 386.9L413.6 396" fill="none" stroke="#15171b" stroke-width="1.4"/>
</g>
<!-- registered certificate -->
<g stroke-linejoin="round">
<rect x="571.6" y="342.8" width="106.4" height="55.2" rx="2.5" ry="2" fill="#f3c873" stroke="#5a3a1c" stroke-width="1.6"/>
<path d="M579.3 345.7H650L671.4 353.8V395H579.3Z" fill="#eceef2" stroke="#4a3320" stroke-width="1.3"/>
<path d="M650 345.7V351.5Q650 353.8 654 353.8H671.4Z" fill="#c5c8d0" stroke="#4a3320" stroke-width="0.8"/>
<ellipse cx="597.6" cy="353.8" rx="11.4" ry="4.8" fill="#4db96a"/>
<path d="M591 353.8L595.8 355.6L604 351.7" fill="none" stroke="#e9f8ec" stroke-width="1.5" stroke-linecap="round"/>
<path d="M614.2 352.3H639" stroke="#2a2c33" stroke-width="1"/>
<path d="M614.8 356.1H643.5" stroke="#8b8e96" stroke-width="1"/>
<g stroke="#2d2f36" stroke-width="0.9">
<path d="M597 362.5H660.6"/><path d="M589.3 366.5H660.6"/><path d="M589.3 374.2H660.6"/><path d="M589.3 377.4H636"/>
</g>
<path d="M589.3 370.1H660.6" stroke="#9a9da4" stroke-width="1.1"/>
<path d="M589.5 389.5C591.5 388.5 592.5 385.8 594.5 385.6C596 385.6 595.5 388.2 597.5 388.2C600 388 602 387 604.5 387.6C608 388.2 613 387.8 619 387.3" fill="none" stroke="#222" stroke-width="1"/>
<!-- rosette -->
<path d="M634.5 394L625.5 402.2L634 401L638 403.6L643.5 395Z" fill="#4aa65a" stroke="#1f5a2c" stroke-width="0.9"/>
<path d="M647.5 395L655.5 403.6L658.5 400.8L664.5 402.3L656.5 394Z" fill="#4aa65a" stroke="#1f5a2c" stroke-width="0.9"/>
<path d="M645.3 379.2C649 378.6 651 379.6 653.5 380.2C657 379.8 660 381 661 382.6C664 383.4 665 385.4 664 387C665.2 389 663.6 391 661 391.6C660 393.6 656.5 394.6 653.5 394.4C651 396 647 396.2 645.3 395.6C642.5 396.4 639 395.8 637 394.4C633.5 394.6 630.5 393.4 629.6 391.6C626.6 390.8 625.6 388.8 626.6 387C625.6 385.2 627 383.2 629.6 382.6C630.6 380.8 633.6 379.8 637 380.2C639 379 642.5 378.6 645.3 379.2Z" fill="#4aa65a" stroke="#1f5a2c" stroke-width="1"/>
<ellipse cx="645.3" cy="387.4" rx="10.6" ry="4.7" fill="#e9c354" stroke="#2c5a2c" stroke-width="0.9"/>
<path d="M640 387.6L643.8 389.4L651.5 385.6" fill="none" stroke="#3a3a20" stroke-width="1.3" stroke-linecap="round"/>
</g>

<!-- text -->
<g>
<text x="517" y="16.3" font-size="14.2" font-weight="bold" fill="#f1f4fa" stroke="#f1f4fa" stroke-width="0.35" text-anchor="middle" direction="rtl" textLength="959" lengthAdjust="spacingAndGlyphs">اینفوگرافی جامع قانون الزام به ثبت رسمی معاملات اموال غیرمنقول (۱۵ ماده و ۲۸ تبصره)</text>
<text x="517.6" y="55" font-size="13.5" font-weight="bold" fill="#1c202b" stroke="#1c202b" stroke-width="0.1" text-anchor="middle" direction="rtl" textLength="232" lengthAdjust="spacingAndGlyphs">سیر تصویب و تأیید نهایی</text>
<text x="271" y="89" font-size="12" font-weight="bold" fill="#1c202b" stroke="#1c202b" stroke-width="0.1" text-anchor="middle" direction="rtl" textLength="346" lengthAdjust="spacingAndGlyphs">مجمع تشخیص مصلحت نظام (۱۴۰۳/۲/۲۶)</text>
<text x="271" y="100.5" font-size="9.5" font-weight="bold" fill="#262b38" stroke="#262b38" stroke-width="0.0" text-anchor="middle" direction="rtl" textLength="371" lengthAdjust="spacingAndGlyphs" stroke-width="0">تأیید مواد ۱، ۳، ۱۰ و تبصره‌های مرتبط جهت مصلحت نظام</text>
<text x="778" y="89" font-size="12" font-weight="bold" fill="#1c202b" stroke="#1c202b" stroke-width="0.1" text-anchor="middle" direction="rtl" textLength="266" lengthAdjust="spacingAndGlyphs">مجلس شورای اسلامی (۱۴۰۱/۹/۶)</text>
<text x="147" y="189.6" font-size="13.2" font-weight="bold" fill="#10141f" stroke="#10141f" stroke-width="0.35" text-anchor="middle" direction="rtl" textLength="158" lengthAdjust="spacingAndGlyphs">دفاتر اسناد رسمی</text>
<text x="147" y="201.6" font-size="12.6" font-weight="bold" fill="#10141f" stroke="#10141f" stroke-width="0.35" text-anchor="middle" direction="rtl" textLength="128" lengthAdjust="spacingAndGlyphs">(مواد ۲، ۷، ۱۲)</text>
<text x="150" y="216.2" font-size="10.2" font-weight="bold" fill="#191c28" stroke="#191c28" stroke-width="0.0" text-anchor="middle" direction="rtl" textLength="191" lengthAdjust="spacingAndGlyphs">ثبت قراردادهای خصوصی</text>
<text x="150" y="228.2" font-size="10.2" font-weight="bold" fill="#191c28" stroke="#191c28" stroke-width="0.0" text-anchor="middle" direction="rtl" textLength="224" lengthAdjust="spacingAndGlyphs">(پیش‌نویس)، واریز آنی وجوه</text>
<text x="153" y="240.2" font-size="10.2" font-weight="bold" fill="#191c28" stroke="#191c28" stroke-width="0.0" text-anchor="middle" direction="rtl" textLength="181" lengthAdjust="spacingAndGlyphs">دولتی، ساعات کار مکفی.</text>
<text x="146" y="334.6" font-size="13.2" font-weight="bold" fill="#10141f" stroke="#10141f" stroke-width="0.35" text-anchor="middle" direction="rtl" textLength="210" lengthAdjust="spacingAndGlyphs">دلالان و مشاوران املاک</text>
<text x="148" y="347.1" font-size="12.6" font-weight="bold" fill="#10141f" stroke="#10141f" stroke-width="0.35" text-anchor="middle" direction="rtl" textLength="103.5" lengthAdjust="spacingAndGlyphs">(مواد ۳، ۱۱)</text>
<text x="148.5" y="361.7" font-size="10.2" font-weight="bold" fill="#191c28" stroke="#191c28" stroke-width="0.0" text-anchor="middle" direction="rtl" textLength="235" lengthAdjust="spacingAndGlyphs">فقط درج پیش‌نویس در سامانه؛</text>
<text x="147" y="372.7" font-size="10.2" font-weight="bold" fill="#191c28" stroke="#191c28" stroke-width="0.0" text-anchor="middle" direction="rtl" textLength="200" lengthAdjust="spacingAndGlyphs">ممنوعیت مطلق تنظیم سند</text>
<text x="147.7" y="384.2" font-size="10.2" font-weight="bold" fill="#191c28" stroke="#191c28" stroke-width="0.0" text-anchor="middle" direction="rtl" textLength="192.6" lengthAdjust="spacingAndGlyphs">عادی (با مجازات سنگین).</text>
<text x="146.3" y="476.6" font-size="13.2" font-weight="bold" fill="#10141f" stroke="#10141f" stroke-width="0.35" text-anchor="middle" direction="rtl" textLength="195.6" lengthAdjust="spacingAndGlyphs">مراجع دولتی و قضایی</text>
<text x="146.3" y="488.6" font-size="12.6" font-weight="bold" fill="#10141f" stroke="#10141f" stroke-width="0.35" text-anchor="middle" direction="rtl" textLength="148.5" lengthAdjust="spacingAndGlyphs">(مواد ۵، ۶، ۸، ۹)</text>
<text x="147" y="502.7" font-size="10.2" font-weight="bold" fill="#191c28" stroke="#191c28" stroke-width="0.0" text-anchor="middle" direction="rtl" textLength="212" lengthAdjust="spacingAndGlyphs">پاسخ آنی استعلامات (تأمین</text>
<text x="146.3" y="514.7" font-size="10.2" font-weight="bold" fill="#191c28" stroke="#191c28" stroke-width="0.0" text-anchor="middle" direction="rtl" textLength="239.7" lengthAdjust="spacingAndGlyphs">اجتماعی، دارایی)، اعلام تغییرات</text>
<text x="146.2" y="526.7" font-size="10.2" font-weight="bold" fill="#191c28" stroke="#191c28" stroke-width="0.0" text-anchor="middle" direction="rtl" textLength="216" lengthAdjust="spacingAndGlyphs">ملک، مسئولیت کیفری/مدنی</text>
<text x="146.3" y="538.2" font-size="10.2" font-weight="bold" fill="#191c28" stroke="#191c28" stroke-width="0.0" text-anchor="middle" direction="rtl" textLength="122" lengthAdjust="spacingAndGlyphs">برای مستنکفین.</text>
<text x="889.7" y="189.6" font-size="13.2" font-weight="bold" fill="#10141f" stroke="#10141f" stroke-width="0.35" text-anchor="middle" direction="rtl" textLength="213.6" lengthAdjust="spacingAndGlyphs">ساماندهی اسناد قدیمی</text>
<text x="890.5" y="201.6" font-size="12.6" font-weight="bold" fill="#10141f" stroke="#10141f" stroke-width="0.35" text-anchor="middle" direction="rtl" textLength="82" lengthAdjust="spacingAndGlyphs">(ماده ۱۰)</text>
<text x="890.4" y="216.2" font-size="10.2" font-weight="bold" fill="#191c28" stroke="#191c28" stroke-width="0.0" text-anchor="middle" direction="rtl" textLength="231" lengthAdjust="spacingAndGlyphs">مهلت محدود برای ثبت ادعاهای</text>
<text x="889.2" y="228.2" font-size="10.2" font-weight="bold" fill="#191c28" stroke="#191c28" stroke-width="0.0" text-anchor="middle" direction="rtl" textLength="205" lengthAdjust="spacingAndGlyphs">اسناد عادی قدیمی در سامانه</text>
<text x="889.6" y="240.2" font-size="10.2" font-weight="bold" fill="#191c28" stroke="#191c28" stroke-width="0.0" text-anchor="middle" direction="rtl" textLength="232" lengthAdjust="spacingAndGlyphs">مخصوص و تبدیل به سند رسمی.</text>
<text x="889.6" y="334.6" font-size="13.2" font-weight="bold" fill="#10141f" stroke="#10141f" stroke-width="0.35" text-anchor="middle" direction="rtl" textLength="200" lengthAdjust="spacingAndGlyphs">مالی و امنیت معاملات</text>
<text x="888.5" y="347.1" font-size="12.6" font-weight="bold" fill="#10141f" stroke="#10141f" stroke-width="0.35" text-anchor="middle" direction="rtl" textLength="105" lengthAdjust="spacingAndGlyphs">(مواد ۴، ۱۳)</text>
<text x="889" y="361.7" font-size="10.2" font-weight="bold" fill="#191c28" stroke="#191c28" stroke-width="0.0" text-anchor="middle" direction="rtl" textLength="225" lengthAdjust="spacingAndGlyphs">محاسبه و اخذ آنی مالیات نقل</text>
<text x="889" y="372.7" font-size="10.2" font-weight="bold" fill="#191c28" stroke="#191c28" stroke-width="0.0" text-anchor="middle" direction="rtl" textLength="225" lengthAdjust="spacingAndGlyphs">و انتقال؛ امکان بیمه مسئولیت</text>
<text x="889.6" y="384.2" font-size="10.2" font-weight="bold" fill="#191c28" stroke="#191c28" stroke-width="0.0" text-anchor="middle" direction="rtl" textLength="156" lengthAdjust="spacingAndGlyphs">در صورت ابطال سند.</text>
<text x="888.8" y="476.6" font-size="13.2" font-weight="bold" fill="#10141f" stroke="#10141f" stroke-width="0.35" text-anchor="middle" direction="rtl" textLength="198.5" lengthAdjust="spacingAndGlyphs">فنی و اصلاحات قانونی</text>
<text x="888.8" y="488.6" font-size="12.6" font-weight="bold" fill="#10141f" stroke="#10141f" stroke-width="0.35" text-anchor="middle" direction="rtl" textLength="113" lengthAdjust="spacingAndGlyphs">(مواد ۱۴، ۱۵)</text>
<text x="890.3" y="502.7" font-size="10.2" font-weight="bold" fill="#191c28" stroke="#191c28" stroke-width="0.0" text-anchor="middle" direction="rtl" textLength="192.6" lengthAdjust="spacingAndGlyphs">تخصیص شناسه یکتا برای</text>
<text x="891" y="514.7" font-size="10.2" font-weight="bold" fill="#191c28" stroke="#191c28" stroke-width="0.0" text-anchor="middle" direction="rtl" textLength="194" lengthAdjust="spacingAndGlyphs">پیش‌فروش؛ نسخ و اصلاح</text>
<text x="890.3" y="526.7" font-size="10.2" font-weight="bold" fill="#191c28" stroke="#191c28" stroke-width="0.0" text-anchor="middle" direction="rtl" textLength="148.5" lengthAdjust="spacingAndGlyphs">قوانین موازی (مانند</text>
<text x="891.8" y="538.2" font-size="10.2" font-weight="bold" fill="#191c28" stroke="#191c28" stroke-width="0.0" text-anchor="middle" direction="rtl" textLength="172" lengthAdjust="spacingAndGlyphs">پیش‌فروش ساختمان).</text>
<text x="517.5" y="192.6" font-size="13.2" font-weight="bold" fill="#10141f" stroke="#10141f" stroke-width="0.35" text-anchor="middle" direction="rtl" textLength="104" lengthAdjust="spacingAndGlyphs">اصل قانون:</text>
<text x="518" y="207.6" font-size="13.2" font-weight="bold" fill="#10141f" stroke="#10141f" stroke-width="0.35" text-anchor="middle" direction="rtl" textLength="251.6" lengthAdjust="spacingAndGlyphs">الزام به ثبت رسمی (ماده ۱)</text>
<text x="518" y="222.8" font-size="10.2" font-weight="bold" fill="#191c28" stroke="#191c28" stroke-width="0.0" text-anchor="middle" direction="rtl" textLength="323.7" lengthAdjust="spacingAndGlyphs">کلیه معاملات اموال غیرمنقول باید در سامانه</text>
<text x="518" y="234.4" font-size="10.2" font-weight="bold" fill="#191c28" stroke="#191c28" stroke-width="0.0" text-anchor="middle" direction="rtl" textLength="254.8" lengthAdjust="spacingAndGlyphs">ثبت الکترونیک اسناد به ثبت برسد.</text>
<text x="415" y="421.8" font-size="12.2" font-weight="bold" fill="#10141f" stroke="#10141f" stroke-width="0.35" text-anchor="middle" direction="rtl" textLength="170" lengthAdjust="spacingAndGlyphs">سند عادی (قولنامه)</text>
<text x="415.3" y="435.0" font-size="12.2" font-weight="bold" fill="#10141f" stroke="#10141f" stroke-width="0.35" text-anchor="middle" direction="rtl" textLength="171" lengthAdjust="spacingAndGlyphs">پس از مهلت قانونی</text>
<text x="415" y="446.8" font-size="9.7" font-weight="bold" fill="#2b2e3a" stroke="#2b2e3a" stroke-width="0.0" text-anchor="middle" direction="rtl" textLength="80" lengthAdjust="spacingAndGlyphs">فاقد اعتبار،</text>
<text x="414.2" y="458.5" font-size="9.7" font-weight="bold" fill="#2b2e3a" stroke="#2b2e3a" stroke-width="0.0" text-anchor="middle" direction="rtl" textLength="113.5" lengthAdjust="spacingAndGlyphs">غیرقابل استماع</text>
<text x="417" y="470.2" font-size="9.7" font-weight="bold" fill="#2b2e3a" stroke="#2b2e3a" stroke-width="0.0" text-anchor="middle" direction="rtl" textLength="100" lengthAdjust="spacingAndGlyphs">در دعاوی (جز</text>
<text x="415.9" y="481.4" font-size="9.7" font-weight="bold" fill="#2b2e3a" stroke="#2b2e3a" stroke-width="0.0" text-anchor="middle" direction="rtl" textLength="125" lengthAdjust="spacingAndGlyphs">استرداد عوضین)</text>
<text x="626.3" y="421.8" font-size="12.2" font-weight="bold" fill="#10141f" stroke="#10141f" stroke-width="0.35" text-anchor="middle" direction="rtl" textLength="170.5" lengthAdjust="spacingAndGlyphs">سند رسمی ثبت‌شده</text>
<text x="630" y="436.2" font-size="9.7" font-weight="bold" fill="#191c28" stroke="#191c28" stroke-width="0.0" text-anchor="middle" direction="rtl" textLength="111.6" lengthAdjust="spacingAndGlyphs">معتبر در مراجع</text>
<text x="629.8" y="448.6" font-size="9.7" font-weight="bold" fill="#191c28" stroke="#191c28" stroke-width="0.0" text-anchor="middle" direction="rtl" textLength="114.7" lengthAdjust="spacingAndGlyphs">قضایی و اداری،</text>
<text x="629.2" y="459.8" font-size="9.7" font-weight="bold" fill="#191c28" stroke="#191c28" stroke-width="0.0" text-anchor="middle" direction="rtl" textLength="105.7" lengthAdjust="spacingAndGlyphs">مالکیت قطعی</text>
</g>
</g>
</svg>
</body></html>
